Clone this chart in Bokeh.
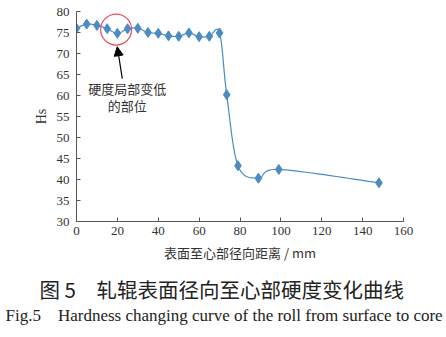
import numpy as np
from bokeh.plotting import figure
from bokeh.models import Range1d, FixedTicker, Arrow, NormalHead, Title
from bokeh.core.properties import value
from bokeh.embed import file_html
from bokeh.resources import INLINE

# ---- data ----
distance_mm = [0, 5, 10, 15, 20, 25, 30, 35, 40, 45, 50, 55, 60, 65, 70, 73.5, 79, 89, 99, 148]
hardness_hs = [76.0, 77.0, 76.7, 75.9, 74.8, 75.9, 76.0, 75.0, 74.8, 74.2, 74.1, 74.9,
               74.0, 74.1, 74.9, 60.2, 43.3, 40.3, 42.4, 39.2]
x_ticks = [0, 20, 40, 60, 80, 100, 120, 140, 160]
y_ticks = [30, 35, 40, 45, 50, 55, 60, 65, 70, 75, 80]
x_label = "表面至心部径向距离 / mm"
y_label = "Hs"
note_lines = ["硬度局部变低", "的部位"]
caption_cn = "图 5\u3000轧辊表面径向至心部硬度变化曲线"
caption_en = "Fig.5\u2002\u2002Hardness changing curve of the roll from surface to core"

BLUE = "#4a8cc2"
SERIF = "Liberation Serif"
CJK = "Noto Sans CJK SC"


def smooth_curve(xs, ys, sx, sy, n=20):
    """Parametric Catmull-Rom through the points (like a spreadsheet's smoothed line)."""
    P = np.column_stack([np.asarray(xs, float) * sx, np.asarray(ys, float) * sy])
    P = np.vstack([P[0], P, P[-1]])
    out = []
    t = np.linspace(0, 1, n, endpoint=False)[:, None]
    for i in range(1, len(P) - 2):
        p0, p1, p2, p3 = P[i - 1], P[i], P[i + 1], P[i + 2]
        c1 = p1 + (p2 - p0) / 6.0
        c2 = p2 - (p3 - p1) / 6.0
        seg = ((1 - t) ** 3) * p1 + 3 * ((1 - t) ** 2) * t * c1 + 3 * (1 - t) * t ** 2 * c2 + t ** 3 * p2
        out.append(seg)
    out.append(P[-2][None, :])
    arr = np.vstack(out)
    return arr[:, 0] / sx, arr[:, 1] / sy


H = 337
p = figure(width=446, height=H, output_backend="svg", toolbar_location=None,
           x_range=Range1d(0, 160), y_range=Range1d(30, 80),
           min_border_left=76, min_border_right=43, min_border_top=11, min_border_bottom=116)
p.outline_line_color = None
p.grid.visible = False
p.background_fill_color = "white"
p.border_fill_color = "white"

for ax in (p.xaxis[0], p.yaxis[0]):
    ax.axis_line_color = "#555555"
    ax.major_tick_line_color = "#555555"
    ax.major_tick_in = 4
    ax.major_tick_out = 0
    ax.minor_tick_line_color = None
    ax.major_label_text_font = SERIF
    ax.major_label_text_font_size = "13px"
    ax.major_label_text_color = "#333333"
    ax.axis_label_text_font_style = "normal"
    ax.axis_label_text_color = "#333333"

p.xaxis.ticker = FixedTicker(ticks=x_ticks)
p.yaxis.ticker = FixedTicker(ticks=y_ticks)
p.xaxis.major_label_standoff = 5
p.yaxis.major_label_standoff = 7
p.xaxis.axis_label = x_label
p.xaxis.axis_label_text_font = CJK
p.xaxis.axis_label_text_font_size = "13px"
p.xaxis.axis_label_standoff = 5
p.yaxis.axis_label = y_label
p.yaxis.axis_label_text_font = SERIF
p.yaxis.axis_label_text_font_size = "14px"
p.yaxis.axis_label_standoff = 5

# pixel scale for the smoothing (px per data unit)
sx = 327.0 / 160.0
sy = 210.0 / 50.0
cx, cy = smooth_curve(distance_mm, hardness_hs, sx, sy)
p.line(cx, cy, line_color=BLUE, line_width=1.2)
p.scatter(distance_mm, hardness_hs, marker="diamond", size=10, fill_color=BLUE,
          line_color=BLUE)

# annotation: red circle, arrow, note text
circle_center = (19.4, 75.7)
p.circle(x=[circle_center[0]], y=[circle_center[1]], radius=15.5, radius_units="screen",
         fill_color=None, line_color="#e8505b", line_width=1.2)
arrow_tail = (22.4, 64.0)
arrow_head = (19.95, 71.6)
p.add_layout(Arrow(end=NormalHead(size=9, fill_color="black", line_color="black"),
                   x_start=arrow_tail[0], y_start=arrow_tail[1],
                   x_end=arrow_head[0], y_end=arrow_head[1],
                   line_color="black", line_width=1.2))
note_x = 24.8
note_y = [61.7, 57.6]
p.text(x=[note_x, note_x], y=note_y, text=note_lines, text_font=value(CJK),
       text_font_size="13px", text_align="center", text_baseline="middle",
       text_color="#333333")

# captions below the chart, as titles in the bottom panel
p.add_layout(Title(text=caption_cn, align="left", offset=-37, standoff=14,
                   text_font=CJK, text_font_size="20.5px", text_font_style="normal",
                   text_color="#222222"), "below")
p.add_layout(Title(text=caption_en, align="left", offset=-71, standoff=-14,
                   text_font=SERIF, text_font_size="17px", text_font_style="normal",
                   text_color="#222222"), "below")

open("out.html", "w").write(file_html(p, INLINE))
